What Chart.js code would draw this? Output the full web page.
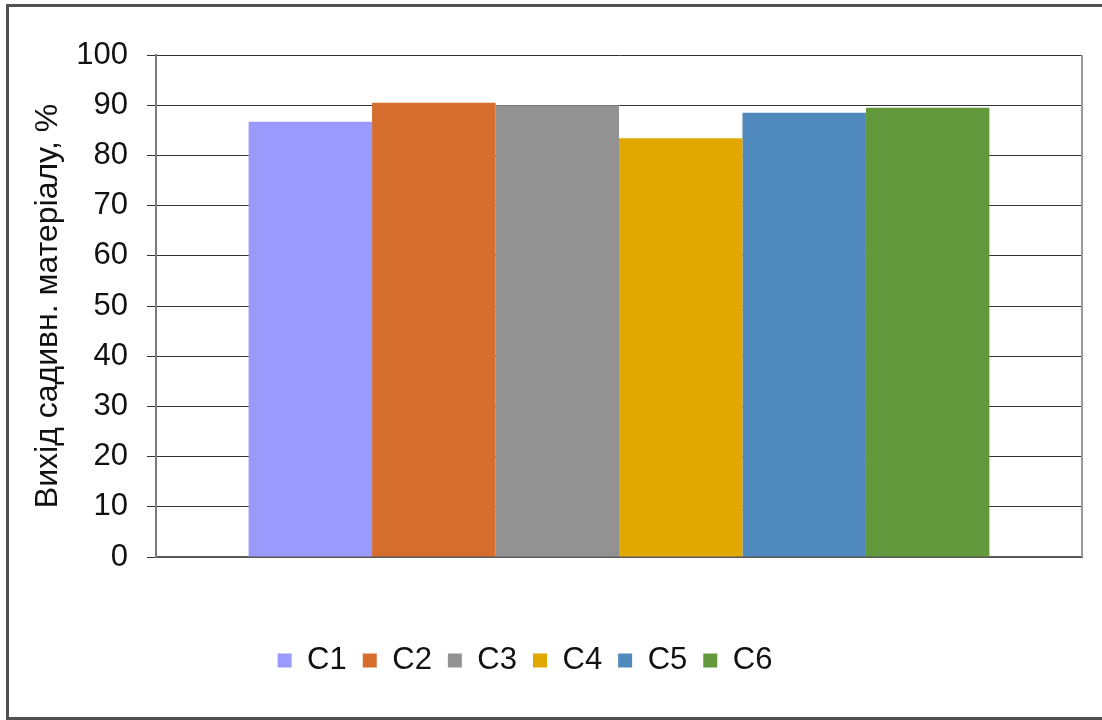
<!DOCTYPE html>
<html lang="uk">
<head>
    <meta charset="UTF-8">
    <title>Вихід садивного матеріалу</title>
    <script src="https://cdn.jsdelivr.net/npm/chart.js@4.4.1/dist/chart.umd.min.js"></script>
    <style>
        html, body {
            margin: 0;
            padding: 0;
            background-color: #fff;
        }
        .wrap {
            width: 1102px;
            height: 720px;
        }
    </style>
</head>
<body>
    <div class="wrap">
        <canvas id="yieldChart" width="1102" height="720"></canvas>
    </div>

    <script>
        // Data
        const categories = ['Вихід'];
        const seriesNames = ['С1', 'С2', 'С3', 'С4', 'С5', 'С6'];
        const seriesValues = [86.7, 90.5, 90.0, 83.4, 88.5, 89.5];
        const seriesColors = ['#9a99fc', '#d56d2d', '#929292', '#e0a800', '#4f89bd', '#63993d'];
        const yTicks = [0, 10, 20, 30, 40, 50, 60, 70, 80, 90, 100];
        const yTitle = 'Вихід садивн. матеріалу, %';

        const fontFamily = '"Liberation Sans", Arial, sans-serif';

        // outer frame + right edge of plot area
        const framePlugin = {
            id: 'frame',
            beforeDraw(chart) {
                const ctx = chart.ctx;
                ctx.save();
                ctx.fillStyle = '#fff';
                ctx.fillRect(0, 0, chart.width, chart.height);
                ctx.strokeStyle = '#505050';
                ctx.lineWidth = 3;
                ctx.strokeRect(7.5, 5.5, chart.width + 20, chart.height - 7);
                ctx.restore();
            },
            afterDatasetsDraw(chart) {
                const a = chart.chartArea;
                const ctx = chart.ctx;
                ctx.save();
                ctx.strokeStyle = '#9a9a9a';
                ctx.lineWidth = 2;
                ctx.beginPath();
                ctx.moveTo(a.right, a.top);
                ctx.lineTo(a.right, a.bottom);
                ctx.stroke();
                ctx.restore();
            },
            afterLayout(chart) {
                // nudge legend a bit to the left
                chart.legend.left -= 16;
                chart.legend.right -= 16;
            }
        };

        const datasets = seriesNames.map((name, i) => ({
            label: name,
            data: [seriesValues[i]],
            backgroundColor: seriesColors[i],
            borderWidth: 0
        }));

        new Chart(document.getElementById('yieldChart'), {
            type: 'bar',
            data: {
                labels: categories,
                datasets: datasets
            },
            options: {
                responsive: false,
                animation: false,
                layout: {
                    padding: { top: 55, right: 20, bottom: 34, left: 0 }
                },
                datasets: {
                    bar: {
                        categoryPercentage: 0.8,
                        barPercentage: 1.0
                    }
                },
                plugins: {
                    legend: {
                        position: 'bottom',
                        labels: {
                            boxWidth: 14,
                            boxHeight: 14,
                            padding: 16,
                            color: '#111',
                            font: { family: fontFamily, size: 31 }
                        }
                    },
                    tooltip: { enabled: false }
                },
                scales: {
                    x: {
                        grid: { display: false },
                        ticks: { display: false },
                        border: { display: true, color: '#5a5a5a', width: 2 },
                        afterFit(scale) { scale.height = 72; }
                    },
                    y: {
                        min: 0,
                        max: 100,
                        afterBuildTicks(scale) {
                            scale.ticks = yTicks.map(v => ({ value: v }));
                        },
                        ticks: {
                            padding: 19,
                            color: '#111',
                            font: { family: fontFamily, size: 31 }
                        },
                        grid: {
                            color: '#333',
                            lineWidth: 1,
                            tickLength: 9
                        },
                        border: { color: '#7a7a7a', width: 2 },
                        title: {
                            display: true,
                            text: yTitle,
                            color: '#111',
                            padding: { top: 29, bottom: 0 },
                            font: { family: fontFamily, size: 32 }
                        },
                        afterFit(scale) { scale.width = 156; }
                    }
                }
            },
            plugins: [framePlugin]
        });
    </script>
</body>
</html>
